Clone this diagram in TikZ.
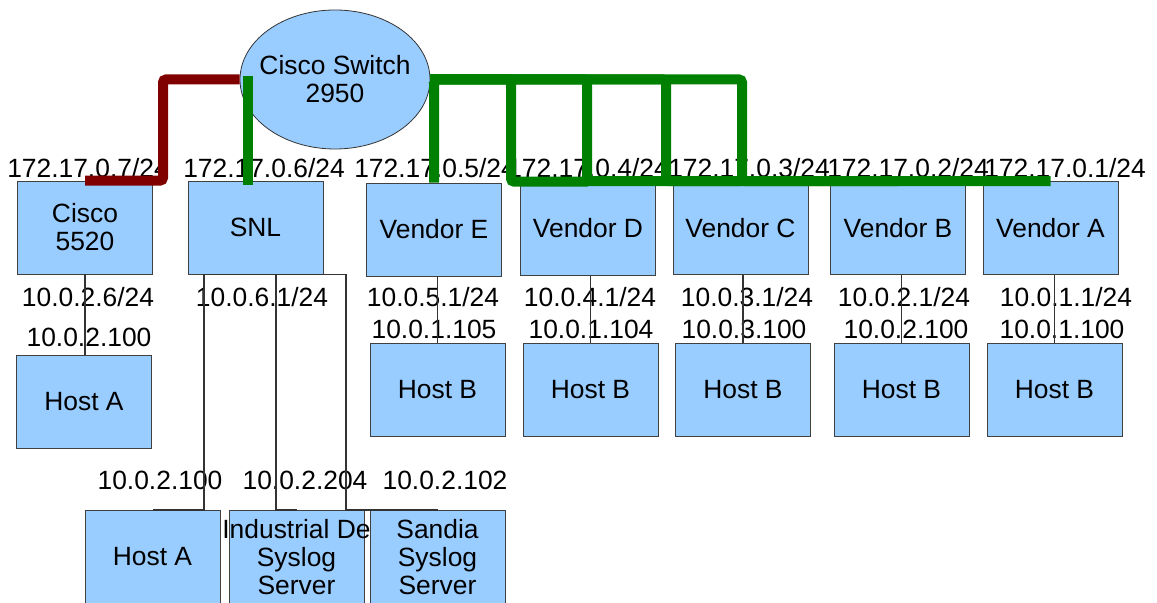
\documentclass[tikz,border=0pt]{standalone}
\usepackage{fontspec}
\setmainfont{Liberation Sans}
\usetikzlibrary{shapes.geometric}
\definecolor{boxblue}{HTML}{99CCFF}
\definecolor{linkred}{HTML}{800000}
\definecolor{linkgreen}{HTML}{008000}

\begin{document}
\begin{tikzpicture}[x=0.5pt,y=-0.5pt,
  font=\fontsize{13.2}{14}\selectfont,
  box/.style={draw=black!75,fill=boxblue,minimum width=67.5pt,minimum height=46.5pt,align=center,inner sep=1pt},
  ip/.style={inner sep=0pt},
  thin link/.style={draw=black!80,line width=0.6pt},
  red link/.style={draw=linkred,line width=5pt,rounded corners=1.5pt},
  green link/.style={draw=linkgreen,line width=5pt,rounded corners=1.5pt}]
  \useasboundingbox (0,0) rectangle (1157,603);
  \clip (0,0) rectangle (1157,603);
  % switch
  \node[ellipse,draw=black!80,fill=boxblue,minimum width=95pt,minimum height=69.5pt,inner xsep=-4.5pt,inner ysep=0pt,align=center] (sw) at (335,79.5) {Cisco Switch\\2950};
  % first row
  \node[box] (c55) at (85,227.5) {Cisco\\5520};
  \node[box] (snl) at (255.5,227.5) {SNL};
  \node[box] (vE) at (434,229.5) {Vendor E};
  \node[box] (vD) at (588,228.5) {Vendor D};
  \node[box] (vC) at (740.5,228) {Vendor C};
  \node[box] (vB) at (898,228) {Vendor B};
  \node[box] (vA) at (1050.5,228) {Vendor A};
  % hosts
  \node[box] (hostA) at (84,402) {Host A};
  \node[box] (hE) at (437.5,389.5) {Host B};
  \node[box] (hD) at (590.5,389.5) {Host B};
  \node[box] (hC) at (743,389.5) {Host B};
  \node[box] (hB) at (901.5,389.5) {Host B};
  \node[box] (hA) at (1054.5,389.5) {Host B};
  % behind SNL
  \node[box] (hostA2) at (152.5,557) {Host A};
  \node[box] (syslogI) at (296.5,557) {\makebox[0pt]{Industrial De}\\Syslog\\Server};
  \node[box] (syslogS) at (437.5,557) {Sandia\\Syslog\\Server};
  % addresses
  \node[ip] (ipc55) at (88,168) {172.17.0.7/24};
  \node[ip] (ipsnl) at (264,168) {172.17.0.6/24};
  \node[ip] (ipE) at (435,168) {172.17.0.5/24};
  \node[ip] (ipD) at (588,168) {172.17.0.4/24};
  \node[ip] (ipC) at (749,168) {172.17.0.3/24};
  \node[ip] (ipB) at (908,168) {172.17.0.2/24};
  \node[ip] (ipA) at (1065,168) {172.17.0.1/24};
  \node[ip] (inc55) at (88,297) {10.0.2.6/24};
  \node[ip] (inhostA) at (89,337) {10.0.2.100};
  \node[ip] (insnl) at (262,297) {10.0.6.1/24};
  \node[ip] (inE) at (433,297) {10.0.5.1/24};
  \node[ip] (inhE) at (434,329) {10.0.1.105};
  \node[ip] (inD) at (590,297) {10.0.4.1/24};
  \node[ip] (inhD) at (591,329) {10.0.1.104};
  \node[ip] (inC) at (747,297) {10.0.3.1/24};
  \node[ip] (inhC) at (744,329) {10.0.3.100};
  \node[ip] (inB) at (904,297) {10.0.2.1/24};
  \node[ip] (inhB) at (906,329) {10.0.2.100};
  \node[ip] (inA) at (1066,297) {10.0.1.1/24};
  \node[ip] (inhA) at (1062,329) {10.0.1.100};
  \node[ip] (inhostA2) at (160,480) {10.0.2.100};
  \node[ip] (insyslogI) at (305,480) {10.0.2.204};
  \node[ip] (insyslogS) at (445,480) {10.0.2.102};
  % inside links
  \draw[thin link] (c55.south) -- (c55.south |- hostA.north);
  \draw[thin link] (hE.north |- vE.south) -- (hE.north);
  \draw[thin link] (hD.north |- vD.south) -- (hD.north);
  \draw[thin link] (hC.north |- vC.south) -- (hC.north);
  \draw[thin link] (hB.north |- vB.south) -- (hB.north);
  \draw[thin link] (hA.north |- vA.south) -- (hA.north);
  \draw[thin link] (snl.south) -| (204,0 |- hostA2.north) -- (hostA2.north);
  \draw[thin link] (snl.south) -| (276,0 |- syslogI.north) -- (syslogI.north);
  \draw[thin link] (snl.south) -| (346,0 |- syslogS.north) -- (syslogS.north);
  % switch links
  \draw[red link] (sw.west) -| (163,0 |- c55.north) -- (c55.north);
  \coordinate (swin) at (248,76);
  \draw[green link] (swin) -- ([yshift=-2pt]swin |- snl.north);
  \draw[green link] (sw.east) -| (vE.north);
  \draw[green link] (sw.east) -| (511,0 |- vD.north) -- (vD.north);
  \draw[green link] (sw.east) -| (587,0 |- vC.north) -- (vC.north);
  \draw[green link] (sw.east) -| (666,0 |- vB.north) -- (vB.north);
  \draw[green link] (sw.east) -| (742,0 |- vA.north) -- (vA.north);
\end{tikzpicture}
\end{document}
